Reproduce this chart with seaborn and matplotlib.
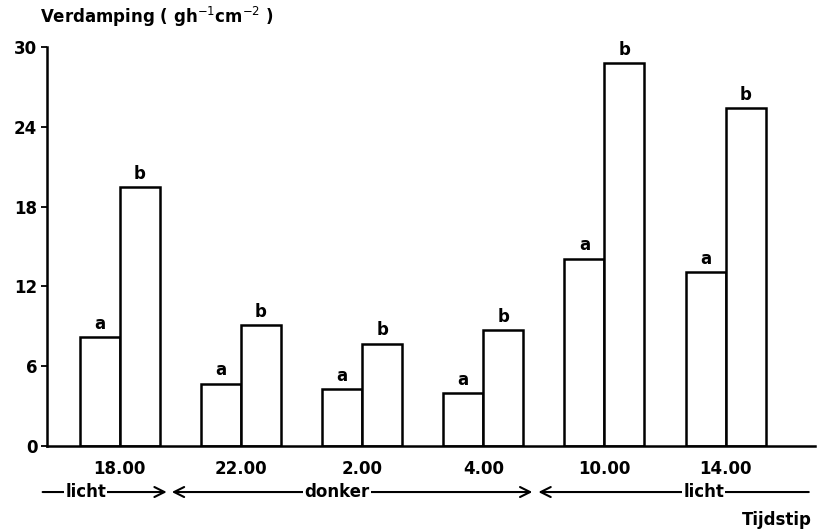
import matplotlib
matplotlib.use("Agg")
import matplotlib.pyplot as plt
import matplotlib.transforms as mtransforms
import pandas as pd
import seaborn as sns

# Evaporation per time of day, two treatments (a, b)
tijdstippen = ["18.00", "22.00", "2.00", "4.00", "10.00", "14.00"]
waarden_a = [8.2, 4.7, 4.3, 4.0, 14.1, 13.1]
waarden_b = [19.5, 9.1, 7.7, 8.7, 28.8, 25.4]
groepen = ["a", "b"]
y_ticks = [0, 6, 12, 18, 24, 30]

df = pd.DataFrame({
    "tijdstip": tijdstippen * 2,
    "groep": ["a"] * len(tijdstippen) + ["b"] * len(tijdstippen),
    "verdamping": waarden_a + waarden_b,
})

sns.set_style("ticks")
plt.rcParams["font.family"] = ["DejaVu Sans"]
plt.rcParams["mathtext.fontset"] = "dejavusans"
plt.rcParams["text.color"] = "black"
plt.rcParams["xtick.color"] = "black"
plt.rcParams["ytick.color"] = "black"
plt.rcParams["axes.labelcolor"] = "black"

fig = plt.figure(figsize=(8.2, 5.31), dpi=100)
ax = fig.add_axes([0.0573, 0.160, 0.937, 0.7514])

sns.barplot(
    data=df, x="tijdstip", y="verdamping", hue="groep",
    order=tijdstippen, hue_order=groepen,
    palette=["white", "white"], edgecolor="black", linewidth=1.8,
    width=0.66, legend=False, ax=ax, errorbar=None, saturation=1,
)

for cont, lab in zip(ax.containers, groepen):
    ax.bar_label(cont, labels=[lab] * len(cont), padding=3,
                 fontsize=12, fontweight="bold", color="black")

ax.set_xlim(-0.60, 5.74)
ax.set_ylim(0, 30)
ax.set_yticks(y_ticks)
ax.set_yticklabels([str(v) for v in y_ticks], fontsize=12, fontweight="bold")
ax.set_xticks(range(len(tijdstippen)))
ax.set_xticklabels(tijdstippen, fontsize=12, fontweight="bold")
ax.tick_params(axis="x", length=0, pad=10, colors="black")
ax.tick_params(axis="y", length=4, width=1.3, pad=3, direction="out",
               colors="black")
ax.set_xlabel("")
ax.set_ylabel("")
for side in ("top", "right"):
    ax.spines[side].set_visible(False)
for side in ("left", "bottom"):
    ax.spines[side].set_linewidth(1.8)
    ax.spines[side].set_color("black")

# small cap at the top of the y axis
ax.plot([0, 0.012], [30, 30], transform=ax.transAxes, color="black",
        lw=1.8, clip_on=False)

# light / dark periods along the time axis
trans = mtransforms.blended_transform_factory(ax.transData, fig.transFigure)
y_row = 0.0734
periodes = [
    (-0.636, 0.388, "->", -0.281, "licht"),
    (0.430, 3.405, "<->", 1.793, "donker"),
    (3.455, 5.686, "<-", 4.818, "licht"),
]
for x0, x1, stijl, xt, tekst in periodes:
    ax.annotate("", xy=(x1, y_row), xytext=(x0, y_row), xycoords=trans,
                textcoords=trans,
                arrowprops=dict(arrowstyle=stijl, lw=1.5, color="black",
                                mutation_scale=18, shrinkA=0, shrinkB=0),
                annotation_clip=False)
    ax.text(xt, y_row, tekst, transform=trans, ha="center", va="center",
            fontsize=12, fontweight="bold", color="black",
            bbox=dict(facecolor="white", edgecolor="none", pad=1))

fig.text(40 / 820, 1 - 17 / 531, r"Verdamping ( gh$^{-1}$cm$^{-2}$ )",
         ha="left", va="center", fontsize=12, fontweight="bold",
         color="black")
fig.text(812 / 820, 1 - 520 / 531, "Tijdstip", ha="right", va="center",
         fontsize=12, fontweight="bold", color="black")

fig.savefig("out.png", dpi=100, facecolor="white")
